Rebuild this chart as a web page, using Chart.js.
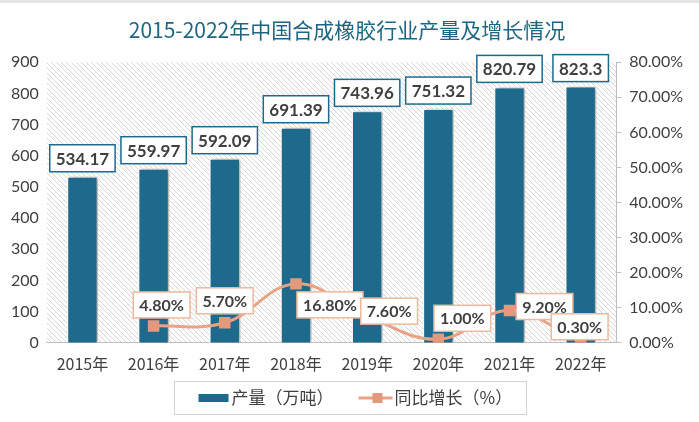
<!DOCTYPE html>
<html>
<head>
<meta charset="utf-8">
<script src="https://cdn.jsdelivr.net/npm/chart.js@4.4.1/dist/chart.umd.min.js"></script>
<style>
  html, body { margin: 0; padding: 0; background: #fff; }
  #box { width: 699px; height: 422px; }
</style>
</head>
<body>
<div id="box"><canvas id="chanliangChart" width="699" height="422"></canvas></div>
<script>
// dados do gráfico
const years = ['2015年', '2016年', '2017年', '2018年', '2019年', '2020年', '2021年', '2022年'];
const output = [534.17, 559.97, 592.09, 691.39, 743.96, 751.32, 820.79, 823.3];
const growth = [null, 4.8, 5.7, 16.8, 7.6, 1.0, 9.2, 0.3];
const outputLabel = '产量（万吨）';
const growthLabel = '同比增长（%）';

const BAR = '#1d6a8c';
const LINE = '#e8a385';
const MARK = '#e39a7c';
const NUMFONT = 'Lato, "Noto Sans CJK SC", sans-serif';

// deslocamento das etiquetas da linha (relativo ao ponto)
const growthShift = [null, [8, -21], [0, -22], [34, 21], [22, -5], [24, -21], [35, -4], [-1, -15]];

function boxLabel(ctx, text, cx, cy, border, size) {
    ctx.font = 'bold ' + size + 'px ' + NUMFONT;
    const w = ctx.measureText(text).width + 12;
    const h = size + 10;
    ctx.fillStyle = '#fff';
    ctx.fillRect(cx - w / 2, cy - h / 2, w, h);
    ctx.strokeStyle = border;
    ctx.lineWidth = 1.5;
    ctx.strokeRect(cx - w / 2, cy - h / 2, w, h);
    ctx.fillStyle = '#404040';
    ctx.textAlign = 'center';
    ctx.textBaseline = 'middle';
    ctx.fillText(text, cx, cy + 1);
}

const decor = {
    id: 'decor',
    beforeDraw(chart) {
        const ctx = chart.ctx;
        const a = chart.chartArea;
        ctx.save();
        ctx.fillStyle = '#e4e4e4';
        ctx.fillRect(0, 0, chart.width, 3);
        // fundo hachurado
        ctx.beginPath();
        ctx.rect(a.left, a.top, a.right - a.left, a.bottom - a.top);
        ctx.clip();
        ctx.strokeStyle = '#d6d6d6';
        ctx.lineWidth = 1;
        const h = a.bottom - a.top;
        for (let k = -h; k < a.right - a.left; k += 5) {
            ctx.beginPath();
            ctx.moveTo(a.left + k, a.top);
            ctx.lineTo(a.left + k + h, a.bottom);
            ctx.stroke();
        }
        ctx.restore();
    },
    beforeDatasetDraw(chart, args) {
        if (args.meta.type === 'bar') {
            chart.ctx.save();
            chart.ctx.shadowColor = 'rgba(0,0,0,0.35)';
            chart.ctx.shadowBlur = 4;
            chart.ctx.shadowOffsetX = 2;
        }
    },
    afterDatasetDraw(chart, args) {
        if (args.meta.type === 'bar') chart.ctx.restore();
    },
    afterDatasetsDraw(chart) {
        const ctx = chart.ctx;
        ctx.save();
        chart.data.datasets.forEach((ds, i) => {
            const meta = chart.getDatasetMeta(i);
            meta.data.forEach((el, j) => {
                const v = ds.data[j];
                if (v === null) return;
                if (meta.type === 'bar') {
                    boxLabel(ctx, String(v), el.x, el.y - 18, '#1d6a8c', 17);
                } else {
                    const s = growthShift[j];
                    boxLabel(ctx, v.toFixed(2) + '%', el.x + s[0], el.y + s[1], '#ecb9a0', 16);
                }
            });
        });
        ctx.restore();
    },
    afterDraw(chart) {
        // legenda
        const ctx = chart.ctx;
        const w = 352, h = 33;
        const x = Math.round(chart.width / 2 - w / 2) + 0.5;
        const y = chart.height - 40.5;
        ctx.save();
        ctx.strokeStyle = '#d4d4d4';
        ctx.lineWidth = 1;
        ctx.strokeRect(x, y, w, h);
        const cy = y + h / 2;
        ctx.fillStyle = BAR;
        ctx.fillRect(x + 24, cy - 4, 30, 8);
        ctx.font = '17px "Noto Sans CJK SC", sans-serif';
        ctx.fillStyle = '#404040';
        ctx.textBaseline = 'middle';
        ctx.textAlign = 'left';
        ctx.fillText(outputLabel, x + 57, cy);
        ctx.strokeStyle = LINE;
        ctx.lineWidth = 3;
        ctx.beginPath();
        ctx.moveTo(x + 184, cy);
        ctx.lineTo(x + 218, cy);
        ctx.stroke();
        ctx.fillStyle = MARK;
        ctx.fillRect(x + 198, cy - 5, 10, 10);
        ctx.fillStyle = '#404040';
        ctx.fillText(growthLabel, x + 220, cy);
        ctx.restore();
    }
};

new Chart(document.getElementById('chanliangChart'), {
    type: 'bar',
    data: {
        labels: years,
        datasets: [
            {
                type: 'line',
                label: growthLabel,
                data: growth,
                yAxisID: 'y1',
                borderColor: LINE,
                borderWidth: 3,
                pointStyle: 'rect',
                pointRadius: 6,
                pointBackgroundColor: MARK,
                pointBorderColor: MARK,
                tension: 0.4,
                order: 0
            },
            {
                label: outputLabel,
                data: output,
                yAxisID: 'y',
                backgroundColor: BAR,
                borderColor: '#ffffff',
                borderWidth: 1.5,
                barPercentage: 0.44,
                categoryPercentage: 1,
                order: 1
            }
        ]
    },
    options: {
        responsive: false,
        animation: false,
        layout: { padding: { left: 3, right: 8, top: 0, bottom: 44 } },
        scales: {
            x: {
                grid: { display: false },
                border: { color: '#bfbfbf' },
                ticks: { color: '#404040', font: { size: 16, family: '"Noto Sans CJK SC", sans-serif' }, padding: 4 }
            },
            y: {
                position: 'left',
                min: 0,
                max: 900,
                grid: { display: false, drawTicks: false },
                border: { display: false },
                ticks: { stepSize: 100, color: '#404040', font: { size: 16, family: NUMFONT }, padding: 8 }
            },
            y1: {
                position: 'right',
                min: 0,
                max: 80,
                grid: { drawOnChartArea: false, color: '#bfbfbf', tickLength: 5 },
                border: { color: '#bfbfbf' },
                ticks: {
                    stepSize: 10,
                    color: '#404040',
                    font: { size: 16, family: NUMFONT },
                    padding: 8,
                    callback: v => v.toFixed(2) + '%'
                }
            }
        },
        plugins: {
            legend: { display: false },
            tooltip: { enabled: false },
            title: {
                display: true,
                text: '2015-2022年中国合成橡胶行业产量及增长情况',
                color: '#1f6582',
                font: { size: 21, family: '"Noto Sans CJK SC", sans-serif', weight: 'normal' },
                padding: { top: 17, bottom: 20 }
            }
        }
    },
    plugins: [decor]
});
</script>
</body>
</html>
